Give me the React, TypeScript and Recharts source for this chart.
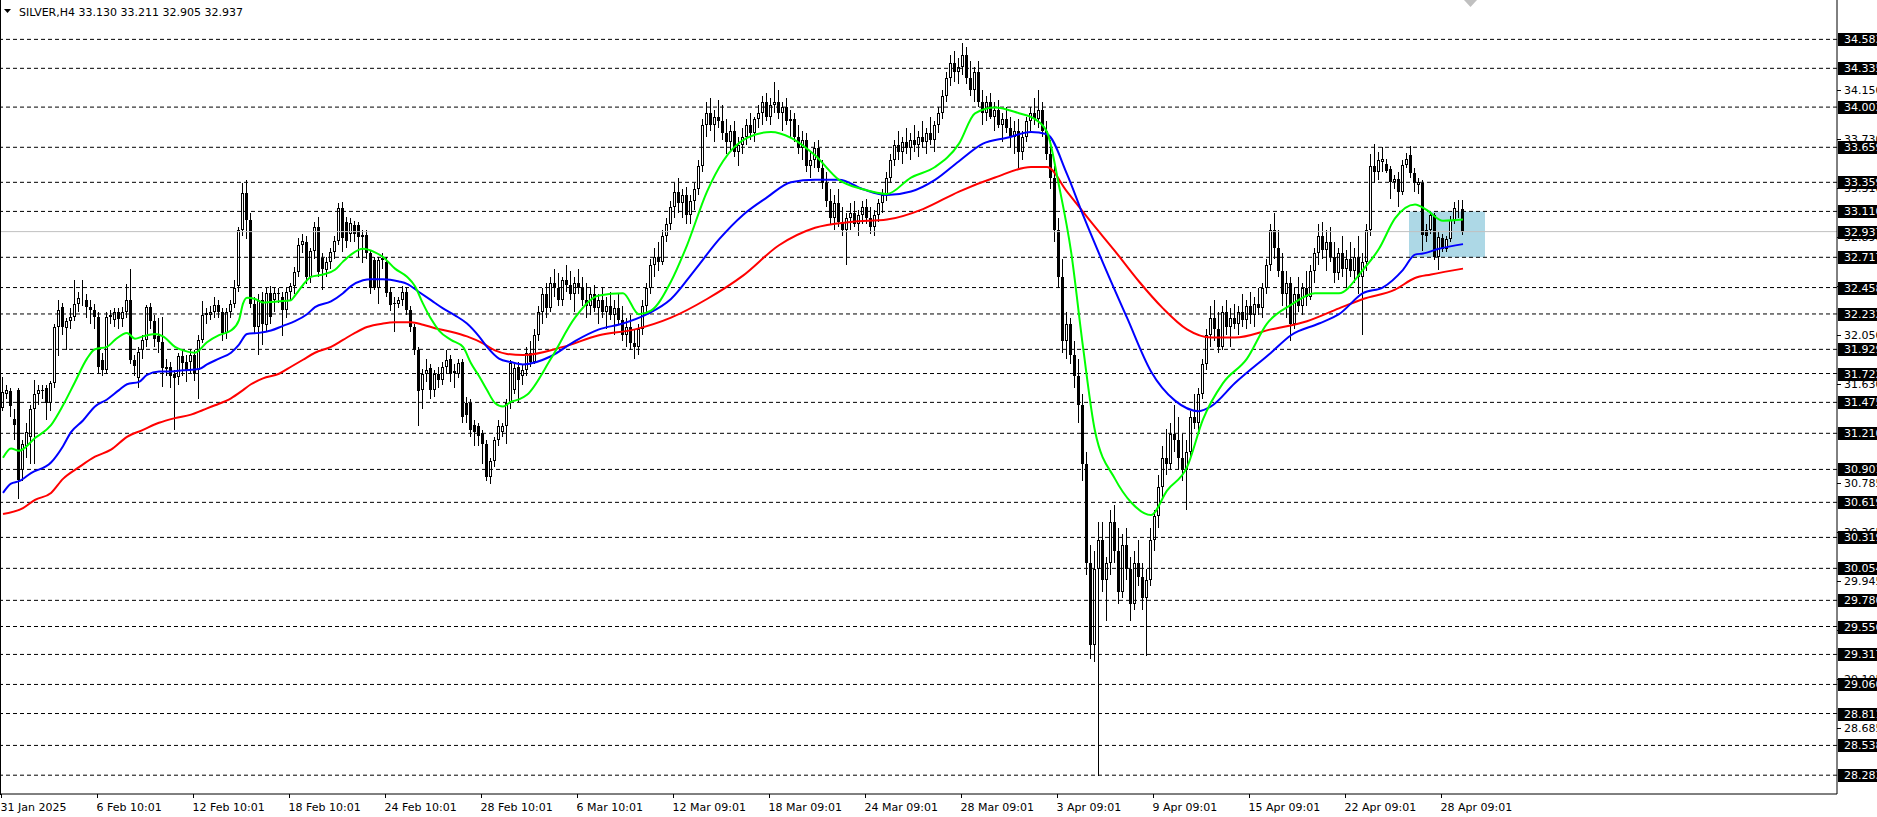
import { Bar, ComposedChart, Line, ReferenceArea, ReferenceLine, XAxis, YAxis } from "recharts"

// SILVER H4 candles, one value per 4h bar (index 0 = 31 Jan 2025)
const opens = [
  31.43, 31.55, 31.57, 31.33, 31.58, 30.90, 31.10, 31.18, 31.42, 31.55,
  31.58, 31.60, 31.47, 31.64, 32.12, 32.29, 32.11, 32.17, 32.21, 32.32,
  32.37, 32.35, 32.29, 32.27, 32.21, 31.84, 31.75, 32.21, 32.18, 32.25,
  32.19, 32.25, 32.35, 31.84, 31.68, 31.92, 32.01, 32.29, 32.17, 32.04,
  31.99, 31.78, 31.78, 31.72, 31.69, 31.87, 31.82, 31.82, 31.88, 31.75,
  32.01, 32.22, 32.22, 32.25, 32.31, 32.25, 32.07, 32.25, 32.32, 32.47,
  32.95, 33.27, 33.04, 32.32, 32.12, 32.35, 32.14, 32.41, 32.35, 32.41,
  32.38, 32.27, 32.42, 32.47, 32.59, 32.82, 32.85, 32.55, 32.77, 32.98,
  32.71, 32.61, 32.68, 32.76, 32.86, 33.14, 33.02, 32.92, 32.99, 32.99,
  32.91, 32.91, 32.75, 32.69, 32.45, 32.69, 32.68, 32.42, 32.33, 32.32,
  32.35, 32.42, 32.27, 32.12, 31.92, 31.58, 31.72, 31.77, 31.58, 31.72,
  31.67, 31.78, 31.85, 31.73, 31.72, 31.82, 31.47, 31.47, 31.28, 31.27,
  31.21, 31.12, 30.84, 30.97, 31.15, 31.22, 31.27, 31.47, 31.58, 31.78,
  31.70, 31.75, 31.90, 31.82, 32.05, 32.25, 32.40, 32.28, 32.50, 32.45,
  32.35, 32.52, 32.48, 32.40, 32.50, 32.45, 32.35, 32.30, 32.40, 32.28,
  32.35, 32.25, 32.30, 32.22, 32.28, 32.18, 32.05, 32.12, 31.98, 31.95,
  32.10, 32.30, 32.45, 32.65, 32.72, 32.68, 32.90, 33.00, 33.15, 33.28,
  33.18, 33.25, 33.08, 33.20, 33.30, 33.50, 33.85, 33.95, 33.85, 33.92,
  33.88, 33.78, 33.70, 33.80, 33.62, 33.68, 33.75, 33.85, 33.78, 33.90,
  33.95, 34.05, 33.92, 34.02, 34.05, 33.95, 34.00, 33.88, 33.90, 33.75,
  33.65, 33.72, 33.50, 33.55, 33.65, 33.48, 33.35, 33.20, 33.05, 33.18,
  33.02, 32.95, 33.05, 33.10, 33.00, 33.08, 33.15, 33.05, 32.98, 33.08,
  33.18, 33.25, 33.40, 33.55, 33.68, 33.62, 33.70, 33.65, 33.72, 33.68,
  33.75, 33.70, 33.78, 33.72, 33.85, 33.95, 34.10, 34.25, 34.38, 34.30,
  34.35, 34.45, 34.25, 34.15, 34.30, 34.05, 33.95, 34.05, 33.92, 33.98,
  33.85, 33.90, 33.82, 33.75, 33.80, 33.62, 33.75, 33.88, 33.95, 33.90,
  33.98, 33.80, 33.60, 33.40, 32.95, 32.55, 32.00, 32.15, 31.88, 31.70,
  31.45, 30.95, 30.10, 29.40, 30.05, 30.30, 29.95, 30.10, 30.45, 30.20,
  29.85, 30.25, 30.05, 29.75, 30.10, 29.98, 29.80, 29.95, 30.30, 30.50,
  30.75, 31.00, 30.95, 31.20, 31.15, 31.00, 30.90, 31.05, 31.35, 31.30,
  31.55, 31.80, 32.05, 32.20, 32.10, 31.95, 32.25, 32.12, 32.20, 32.15,
  32.25, 32.18, 32.30, 32.22, 32.32, 32.28, 32.45, 32.65, 32.95, 32.80,
  32.60, 32.40, 32.50, 32.15, 32.40, 32.30, 32.45, 32.38, 32.60, 32.75,
  32.90, 32.78, 32.85, 32.72, 32.58, 32.75, 32.62, 32.70, 32.60, 32.72,
  32.55, 32.68, 32.95, 33.50, 33.45, 33.53, 33.52, 33.47, 33.36, 33.39,
  33.28, 33.51, 33.59, 33.44, 33.34, 33.35, 32.95, 32.95, 33.08, 32.72,
  32.88, 32.79, 32.87, 33.04, 33.12, 33.13,
]
const highs = [
  31.69, 31.62, 31.60, 31.42, 31.60, 31.15, 31.30, 31.45, 31.67, 31.62,
  31.62, 31.62, 31.66, 32.15, 32.35, 32.33, 32.20, 32.28, 32.52, 32.42,
  32.52, 32.40, 32.35, 32.32, 32.25, 31.90, 32.25, 32.27, 32.28, 32.28,
  32.29, 32.49, 32.62, 31.88, 31.95, 32.05, 32.31, 32.33, 32.22, 32.20,
  32.21, 31.85, 31.82, 31.75, 31.90, 31.92, 31.88, 31.93, 31.92, 32.05,
  32.34, 32.28, 32.30, 32.38, 32.35, 32.28, 32.28, 32.35, 32.52, 32.98,
  33.35, 33.38, 33.10, 32.38, 32.40, 32.42, 32.45, 32.47, 32.45, 32.45,
  32.42, 32.45, 32.50, 32.63, 32.88, 32.92, 32.90, 32.80, 33.02, 33.06,
  32.75, 32.72, 32.80, 32.90, 33.18, 33.19, 33.06, 33.05, 33.03, 33.02,
  32.95, 32.95, 32.78, 32.72, 32.72, 32.75, 32.72, 32.46, 32.38, 32.38,
  32.47, 32.45, 32.30, 32.15, 31.95, 31.76, 31.85, 31.80, 31.75, 31.78,
  31.82, 31.92, 31.88, 31.80, 31.85, 31.85, 31.52, 31.50, 31.32, 31.30,
  31.24, 31.15, 31.00, 31.18, 31.32, 31.30, 31.50, 31.84, 31.80, 31.82,
  31.80, 31.95, 32.00, 32.10, 32.30, 32.45, 32.50, 32.55, 32.62, 32.58,
  32.55, 32.65, 32.60, 32.55, 32.62, 32.55, 32.50, 32.45, 32.48, 32.40,
  32.45, 32.38, 32.42, 32.35, 32.40, 32.30, 32.20, 32.22, 32.10, 32.15,
  32.35, 32.50, 32.70, 32.80, 32.85, 32.95, 33.05, 33.20, 33.35, 33.40,
  33.30, 33.32, 33.25, 33.35, 33.55, 33.90, 34.05, 34.08, 33.98, 34.06,
  34.02, 33.90, 33.85, 33.88, 33.75, 33.82, 33.90, 33.95, 33.92, 34.02,
  34.10, 34.12, 34.08, 34.22, 34.15, 34.05, 34.08, 33.98, 33.95, 33.85,
  33.80, 33.78, 33.62, 33.70, 33.72, 33.55, 33.45, 33.30, 33.25, 33.30,
  33.15, 33.10, 33.18, 33.20, 33.12, 33.20, 33.22, 33.15, 33.12, 33.22,
  33.30, 33.45, 33.60, 33.72, 33.80, 33.75, 33.82, 33.78, 33.85, 33.80,
  33.88, 33.82, 33.92, 33.88, 34.00, 34.15, 34.30, 34.45, 34.48, 34.42,
  34.55, 34.52, 34.40, 34.35, 34.40, 34.15, 34.10, 34.12, 34.05, 34.06,
  33.95, 34.00, 33.92, 33.88, 33.90, 33.80, 33.92, 34.00, 34.08, 34.15,
  34.05, 33.88, 33.72, 33.50, 33.05, 32.70, 32.25, 32.20, 32.00, 31.85,
  31.55, 31.05, 30.25, 30.20, 30.45, 30.45, 30.15, 30.55, 30.60, 30.40,
  30.35, 30.40, 30.15, 30.20, 30.30, 30.10, 30.05, 30.40, 30.55, 30.85,
  31.10, 31.25, 31.30, 31.45, 31.35, 31.20, 31.15, 31.40, 31.55, 31.60,
  31.85, 32.10, 32.30, 32.35, 32.25, 32.30, 32.35, 32.28, 32.32, 32.30,
  32.40, 32.35, 32.42, 32.38, 32.45, 32.50, 32.70, 33.00, 33.10, 32.95,
  32.75, 32.60, 32.55, 32.45, 32.55, 32.50, 32.60, 32.65, 32.80, 33.00,
  33.02, 32.95, 32.98, 32.85, 32.80, 32.90, 32.78, 32.85, 32.80, 32.90,
  32.75, 33.00, 33.60, 33.69, 33.62, 33.66, 33.56, 33.50, 33.42, 33.45,
  33.55, 33.61, 33.67, 33.48, 33.40, 33.38, 33.00, 33.10, 33.10, 32.93,
  32.92, 32.90, 33.07, 33.19, 33.21, 33.211,
]
const lows = [
  31.40, 31.50, 31.35, 31.15, 30.65, 30.80, 31.00, 30.95, 30.95, 31.45,
  31.50, 31.32, 31.40, 31.60, 31.87, 32.05, 31.92, 32.10, 32.17, 32.25,
  32.30, 32.20, 32.15, 32.10, 31.72, 31.70, 31.72, 32.15, 32.12, 32.10,
  32.12, 32.20, 31.80, 31.70, 31.60, 31.85, 31.95, 32.10, 31.95, 31.90,
  31.61, 31.70, 31.60, 31.24, 31.62, 31.70, 31.65, 31.72, 31.66, 31.50,
  31.98, 32.15, 32.18, 32.20, 32.20, 32.00, 32.02, 32.20, 32.28, 32.42,
  32.90, 32.87, 32.28, 32.07, 31.88, 31.97, 32.08, 32.15, 32.25, 32.33,
  32.04, 32.20, 32.35, 32.40, 32.55, 32.75, 32.49, 32.50, 32.70, 32.55,
  32.44, 32.55, 32.62, 32.70, 32.82, 32.76, 32.80, 32.85, 32.85, 32.72,
  32.67, 32.70, 32.40, 32.44, 32.32, 32.62, 32.38, 32.26, 32.08, 32.28,
  32.30, 32.22, 32.08, 31.88, 31.27, 31.42, 31.65, 31.50, 31.52, 31.60,
  31.62, 31.72, 31.65, 31.60, 31.68, 31.30, 31.30, 31.18, 31.10, 31.10,
  30.95, 30.80, 30.78, 30.92, 31.10, 31.18, 31.12, 31.42, 31.55, 31.48,
  31.62, 31.70, 31.78, 31.80, 32.00, 32.15, 32.20, 32.25, 32.38, 32.30,
  32.30, 32.42, 32.35, 32.25, 32.40, 32.30, 32.20, 32.22, 32.25, 32.15,
  32.20, 32.10, 32.18, 32.05, 32.15, 32.00, 31.95, 31.92, 31.85, 31.88,
  32.05, 32.25, 32.40, 32.55, 32.60, 32.65, 32.85, 32.95, 33.05, 33.10,
  33.05, 33.00, 33.00, 33.12, 33.25, 33.45, 33.75, 33.80, 33.70, 33.82,
  33.72, 33.60, 33.62, 33.58, 33.50, 33.60, 33.68, 33.72, 33.70, 33.82,
  33.85, 33.88, 33.85, 33.95, 33.90, 33.80, 33.85, 33.75, 33.70, 33.60,
  33.55, 33.45, 33.40, 33.48, 33.45, 33.30, 33.15, 33.00, 32.95, 32.98,
  32.90, 32.65, 32.95, 32.98, 32.90, 33.00, 33.00, 32.92, 32.90, 33.02,
  33.10, 33.20, 33.35, 33.50, 33.55, 33.52, 33.60, 33.55, 33.62, 33.58,
  33.65, 33.60, 33.68, 33.62, 33.78, 33.90, 34.05, 34.18, 34.22, 34.20,
  34.28, 34.20, 34.10, 34.05, 34.00, 33.85, 33.88, 33.90, 33.80, 33.82,
  33.70, 33.78, 33.65, 33.60, 33.48, 33.55, 33.70, 33.80, 33.85, 33.82,
  33.75, 33.55, 33.30, 32.85, 32.45, 31.90, 31.85, 31.80, 31.60, 31.30,
  30.80, 30.00, 29.28, 29.25, 28.28, 29.85, 29.60, 30.00, 30.10, 29.75,
  29.80, 29.95, 29.60, 29.70, 29.90, 29.70, 29.30, 29.90, 30.20, 30.40,
  30.65, 30.85, 30.90, 31.05, 30.90, 30.80, 30.55, 31.00, 31.25, 31.20,
  31.50, 31.75, 31.95, 32.00, 31.90, 31.92, 32.05, 31.95, 32.10, 32.05,
  32.12, 32.10, 32.15, 32.12, 32.22, 32.20, 32.40, 32.60, 32.70, 32.55,
  32.30, 32.20, 32.00, 32.10, 32.25, 32.22, 32.30, 32.35, 32.50, 32.65,
  32.70, 32.60, 32.68, 32.50, 32.52, 32.55, 32.45, 32.55, 32.50, 32.40,
  32.05, 32.60, 32.90, 33.35, 33.38, 33.45, 33.44, 33.22, 33.30, 33.15,
  33.25, 33.48, 33.40, 33.28, 33.26, 32.77, 32.85, 32.92, 32.69, 32.61,
  32.76, 32.76, 32.85, 33.00, 33.05, 32.905,
]
const closes = [
  31.56, 31.58, 31.44, 31.28, 30.81, 31.12, 31.22, 31.42, 31.55, 31.58,
  31.57, 31.47, 31.64, 32.12, 32.27, 32.12, 32.17, 32.21, 32.32, 32.37,
  32.38, 32.29, 32.27, 32.21, 31.78, 31.75, 32.21, 32.22, 32.25, 32.19,
  32.25, 32.35, 31.84, 31.79, 31.91, 32.01, 32.29, 32.17, 32.02, 31.99,
  31.77, 31.76, 31.70, 31.68, 31.87, 31.81, 31.74, 31.88, 31.72, 32.01,
  32.22, 32.24, 32.25, 32.31, 32.25, 32.07, 32.25, 32.32, 32.45, 32.95,
  33.27, 33.04, 32.32, 32.12, 32.35, 32.15, 32.41, 32.21, 32.41, 32.40,
  32.27, 32.42, 32.47, 32.59, 32.82, 32.86, 32.55, 32.77, 32.98, 32.59,
  32.62, 32.68, 32.76, 32.86, 33.14, 32.88, 32.86, 33.01, 32.92, 32.89,
  32.89, 32.75, 32.45, 32.45, 32.69, 32.71, 32.41, 32.31, 32.32, 32.35,
  32.42, 32.27, 32.12, 31.92, 31.57, 31.72, 31.75, 31.58, 31.72, 31.67,
  31.78, 31.84, 31.72, 31.74, 31.81, 31.35, 31.37, 31.24, 31.22, 31.19,
  31.12, 30.84, 30.97, 31.15, 31.27, 31.27, 31.47, 31.81, 31.77, 31.67,
  31.75, 31.90, 31.82, 32.05, 32.25, 32.40, 32.28, 32.50, 32.45, 32.35,
  32.52, 32.48, 32.40, 32.50, 32.45, 32.35, 32.30, 32.40, 32.28, 32.35,
  32.25, 32.30, 32.22, 32.28, 32.18, 32.05, 32.12, 31.98, 31.95, 32.10,
  32.30, 32.45, 32.65, 32.72, 32.68, 32.90, 33.00, 33.15, 33.28, 33.18,
  33.25, 33.08, 33.20, 33.30, 33.50, 33.85, 33.95, 33.85, 33.92, 33.88,
  33.78, 33.70, 33.80, 33.62, 33.68, 33.75, 33.85, 33.78, 33.90, 33.95,
  34.05, 33.92, 34.02, 34.05, 33.95, 34.00, 33.88, 33.90, 33.75, 33.65,
  33.72, 33.50, 33.55, 33.65, 33.48, 33.35, 33.20, 33.05, 33.18, 33.02,
  32.95, 33.05, 33.10, 33.00, 33.08, 33.15, 33.05, 32.98, 33.08, 33.18,
  33.25, 33.40, 33.55, 33.68, 33.62, 33.70, 33.65, 33.72, 33.68, 33.75,
  33.70, 33.78, 33.72, 33.85, 33.95, 34.10, 34.25, 34.38, 34.30, 34.35,
  34.45, 34.25, 34.15, 34.30, 34.05, 33.95, 34.05, 33.92, 33.98, 33.85,
  33.90, 33.82, 33.75, 33.80, 33.62, 33.75, 33.88, 33.95, 33.90, 33.98,
  33.80, 33.60, 33.40, 32.95, 32.55, 32.00, 32.15, 31.88, 31.70, 31.45,
  30.95, 30.10, 29.40, 30.05, 30.30, 29.95, 30.10, 30.45, 30.20, 29.85,
  30.25, 30.05, 29.75, 30.10, 29.98, 29.80, 29.95, 30.30, 30.50, 30.75,
  31.00, 30.95, 31.20, 31.15, 31.00, 30.90, 31.05, 31.35, 31.30, 31.55,
  31.80, 32.05, 32.20, 32.10, 31.95, 32.25, 32.12, 32.20, 32.15, 32.25,
  32.18, 32.30, 32.22, 32.32, 32.28, 32.45, 32.65, 32.95, 32.80, 32.60,
  32.40, 32.50, 32.15, 32.40, 32.30, 32.45, 32.38, 32.60, 32.75, 32.90,
  32.78, 32.85, 32.72, 32.58, 32.75, 32.62, 32.70, 32.60, 32.72, 32.55,
  32.68, 32.95, 33.50, 33.45, 33.55, 33.56, 33.46, 33.36, 33.39, 33.28,
  33.51, 33.56, 33.44, 33.35, 33.36, 32.91, 32.90, 33.08, 32.72, 32.89,
  32.79, 32.87, 33.04, 33.14, 33.13, 32.937,
]

// moving averages: [bar, value]
const greenMa: [number, number][] = [
  [0, 31.0], [2, 31.08], [4, 31.06], [8, 31.17], [12, 31.28], [15, 31.45], [18, 31.65], [21, 31.85],
  [23, 31.93], [26, 31.95], [28, 32.01], [31, 32.07], [33, 32.02], [35, 32.04], [38, 32.06], [40, 32.04],
  [43, 31.95], [45, 31.92], [48, 31.9], [51, 31.99], [54, 32.05], [57, 32.09], [59, 32.18], [60, 32.32],
  [61, 32.37], [63, 32.36], [65, 32.33], [69, 32.34], [72, 32.35], [73, 32.39], [75, 32.48], [77, 32.55],
  [80, 32.57], [83, 32.61], [85, 32.68], [87, 32.74], [90, 32.79], [93, 32.76], [95, 32.72], [98, 32.62],
  [101, 32.55], [103, 32.47], [105, 32.32], [107, 32.19], [109, 32.09], [112, 32.01], [115, 31.95], [117, 31.81],
  [119, 31.7], [121, 31.58], [123, 31.47], [125, 31.44], [127, 31.48], [129, 31.5], [131, 31.54], [137, 31.85],
  [143, 32.2], [149, 32.39], [155, 32.41], [159, 32.23], [162, 32.26], [167, 32.51], [171, 32.82], [176, 33.28],
  [180, 33.54], [186, 33.74], [192, 33.79], [197, 33.74], [203, 33.59], [209, 33.38], [215, 33.3], [221, 33.26],
  [227, 33.4], [233, 33.49], [239, 33.69], [243, 33.95], [248, 34.0], [254, 33.95], [258, 33.9], [261, 33.79],
  [264, 33.33], [267, 32.77], [270, 31.95], [273, 31.23], [278, 30.82], [282, 30.62], [287, 30.51], [291, 30.72],
  [296, 30.92], [300, 31.33], [305, 31.64], [311, 31.85], [316, 32.15], [322, 32.31], [328, 32.41], [334, 32.41],
  [340, 32.61], [344, 32.79], [348, 33.05], [353, 33.17], [356, 33.12], [360, 33.03], [365, 33.04],
]
const blueMa: [number, number][] = [
  [0, 30.7], [2, 30.78], [4, 30.8], [7, 30.87], [12, 30.96], [15, 31.1], [17, 31.22], [20, 31.32],
  [23, 31.44], [26, 31.5], [29, 31.58], [31, 31.63], [34, 31.65], [36, 31.71], [39, 31.74], [42, 31.74],
  [45, 31.75], [49, 31.76], [51, 31.8], [54, 31.85], [57, 31.9], [59, 31.97], [61, 32.06], [64, 32.07],
  [67, 32.09], [70, 32.13], [73, 32.17], [76, 32.23], [78, 32.29], [82, 32.34], [85, 32.41], [87, 32.47],
  [90, 32.52], [92, 32.53], [95, 32.53], [99, 32.51], [101, 32.49], [104, 32.42], [107, 32.35], [110, 32.28],
  [113, 32.22], [116, 32.15], [119, 32.04], [121, 31.95], [124, 31.85], [127, 31.82], [130, 31.8], [137, 31.87],
  [143, 32.0], [149, 32.1], [155, 32.15], [161, 32.23], [167, 32.36], [173, 32.61], [179, 32.87], [185, 33.08],
  [191, 33.23], [197, 33.36], [203, 33.38], [209, 33.38], [215, 33.3], [221, 33.25], [227, 33.28], [233, 33.38],
  [239, 33.54], [245, 33.69], [251, 33.74], [257, 33.79], [261, 33.77], [266, 33.43], [270, 33.08], [275, 32.67],
  [281, 32.2], [287, 31.74], [293, 31.49], [299, 31.4], [302, 31.44], [308, 31.64], [317, 31.9], [322, 32.05],
  [329, 32.15], [334, 32.23], [340, 32.41], [345, 32.46], [350, 32.61], [353, 32.74], [355, 32.75], [359, 32.79],
  [365, 32.83],
]
const redMa: [number, number][] = [
  [0, 30.52], [5, 30.57], [8, 30.64], [12, 30.7], [15, 30.82], [19, 30.92], [23, 31.01], [27, 31.07],
  [31, 31.18], [35, 31.24], [39, 31.3], [43, 31.34], [47, 31.37], [50, 31.41], [53, 31.45], [57, 31.51],
  [60, 31.58], [62, 31.63], [65, 31.68], [69, 31.72], [72, 31.78], [75, 31.84], [78, 31.9], [82, 31.95],
  [85, 32.01], [88, 32.07], [91, 32.12], [95, 32.15], [98, 32.16], [102, 32.16], [105, 32.14], [108, 32.11],
  [112, 32.08], [116, 32.04], [120, 31.98], [123, 31.92], [126, 31.89], [130, 31.88], [140, 31.95], [149, 32.05],
  [158, 32.1], [167, 32.2], [176, 32.36], [185, 32.56], [194, 32.82], [203, 32.97], [212, 33.02], [221, 33.04],
  [230, 33.13], [239, 33.28], [248, 33.4], [257, 33.49], [261, 33.49], [266, 33.28], [272, 33.02], [278, 32.77],
  [284, 32.51], [290, 32.28], [296, 32.1], [302, 32.03], [308, 32.03], [317, 32.1], [326, 32.17], [334, 32.28],
  [340, 32.36], [348, 32.44], [353, 32.54], [357, 32.57], [365, 32.62],
]

const levels = [
  34.583, 34.335, 34.003, 33.659, 33.359, 33.11, 32.717, 32.458, 32.232, 31.929, 31.722, 31.475,
  31.21, 30.901, 30.619, 30.319, 30.054, 29.78, 29.556, 29.317, 29.06, 28.811, 28.538, 28.283,
]
const priceScale = [
  34.15, 33.73, 33.31, 32.89, 32.47, 32.05, 31.63, 31.21, 30.785, 30.365, 29.945, 29.525, 29.105, 28.685,
]
const lastPrice = 32.937
const zoneTop = 33.11
const zoneBottom = 32.717
const zoneFrom = 352
const zoneTo = 370

const dateBars = [0, 24, 48, 72, 96, 120, 144, 168, 192, 216, 240, 264, 288, 312, 336, 360]
const dateLabels = [
  "31 Jan 2025", "6 Feb 10:01", "12 Feb 10:01", "18 Feb 10:01", "24 Feb 10:01", "28 Feb 10:01",
  "6 Mar 10:01", "12 Mar 09:01", "18 Mar 09:01", "24 Mar 09:01", "28 Mar 09:01", "3 Apr 09:01",
  "9 Apr 09:01", "15 Apr 09:01", "22 Apr 09:01", "28 Apr 09:01",
]

const SLOTS = 459
const FONT = "DejaVu Sans"

const rows: any[] = Array.from({ length: SLOTS }, (_, i) => {
  const has = i < opens.length
  return {
    i,
    o: has ? opens[i] : null,
    h: has ? highs[i] : null,
    l: has ? lows[i] : null,
    c: has ? closes[i] : null,
    range: has ? [lows[i], highs[i]] : null,
    g: null,
    b: null,
    r: null,
  }
})
greenMa.forEach(([bar, v]) => (rows[bar].g = v))
blueMa.forEach(([bar, v]) => (rows[bar].b = v))
redMa.forEach(([bar, v]) => (rows[bar].r = v))

function Candle(props: any) {
  const { x, y, height, payload } = props
  if (!payload || payload.range == null) return null
  const top = Math.min(y, y + height)
  const bottom = Math.max(y, y + height)
  const span = payload.h - payload.l || 1
  const py = (v: number) => top + ((payload.h - v) / span) * (bottom - top)
  const bx = Math.round(x)
  const yo = py(payload.o)
  const yc = py(payload.c)
  const bTop = Math.round(Math.min(yo, yc))
  const bBot = Math.round(Math.max(yo, yc))
  const bull = payload.c >= payload.o
  return (
    <g>
      <line x1={bx + 1.5} x2={bx + 1.5} y1={Math.round(top)} y2={Math.round(bottom)} stroke="#000" strokeWidth={1} />
      {bull ? (
        <rect x={bx + 0.5} y={bTop + 0.5} width={2} height={Math.max(bBot - bTop - 1, 0)} fill="#fff" stroke="#000" strokeWidth={1} />
      ) : (
        <rect x={bx} y={bTop} width={3} height={Math.max(bBot - bTop, 1)} fill="#000" />
      )}
    </g>
  )
}

function DateTick(props: any) {
  const { x, y, payload } = props
  const k = dateBars.indexOf(payload.value)
  if (k < 0) return null
  const tx = Math.round(x) - 2 + 0.5
  return (
    <g>
      <line x1={tx} x2={tx} y1={y} y2={y + 4} stroke="#000" />
      <text x={tx - 1} y={y + 17} fontFamily={FONT} fontSize={11} fill="#000">
        {dateLabels[k]}
      </text>
    </g>
  )
}

function PriceTick(props: any) {
  const { x, y, payload } = props
  const v = payload.value as number
  const boxed = levels.includes(v) || v === lastPrice
  if (boxed) {
    return (
      <g>
        <rect x={x + 1} y={Math.round(y) - 6} width={42} height={13} fill="#000" />
        <text x={x + 7} y={Math.round(y) + 4} fontFamily={FONT} fontSize={11} fill="#fff">
          {v.toFixed(3)}
        </text>
      </g>
    )
  }
  return (
    <g>
      <line x1={x} x2={x + 4} y1={Math.round(y) + 0.5} y2={Math.round(y) + 0.5} stroke="#000" />
      <text x={x + 7} y={Math.round(y) + 4} fontFamily={FONT} fontSize={11} fill="#000">
        {v.toFixed(3)}
      </text>
    </g>
  )
}

export default function App() {
  return (
    <div style={{ position: "absolute", left: 0, top: 0, width: 1877, height: 817, background: "#fff", overflow: "hidden" }}>
      <ComposedChart
        width={1877}
        height={817}
        data={rows}
        margin={{ top: 0, right: 0, bottom: 0, left: 1 }}
        barCategoryGap={0}
        barGap={0}
      >
        <XAxis
          dataKey="i"
          type="category"
          ticks={dateBars}
          interval={0}
          height={23}
          tickLine={false}
          tickSize={0}
          tickMargin={0}
          axisLine={{ stroke: "#000" }}
          tick={<DateTick />}
        />
        <YAxis
          orientation="right"
          width={40}
          type="number"
          domain={[28.122, 34.92]}
          allowDataOverflow
          ticks={[...priceScale, ...levels, lastPrice]}
          interval={0}
          tickLine={false}
          tickSize={0}
          tickMargin={0}
          axisLine={{ stroke: "#000" }}
          tick={<PriceTick />}
        />
        <ReferenceArea x1={zoneFrom} x2={zoneTo} y1={zoneBottom} y2={zoneTop} fill="#ADD8E6" fillOpacity={1} stroke="none" />
        {levels.map((lv) => (
          <ReferenceLine key={lv} y={lv} stroke="#000" strokeDasharray="4 3" />
        ))}
        <ReferenceLine y={lastPrice} stroke="#C0C0C0" />
        <Bar dataKey="range" shape={<Candle />} isAnimationActive={false} />
        <Line dataKey="r" type="monotone" stroke="#FF0000" strokeWidth={2} dot={false} activeDot={false} connectNulls isAnimationActive={false} />
        <Line dataKey="b" type="monotone" stroke="#0000FF" strokeWidth={2} dot={false} activeDot={false} connectNulls isAnimationActive={false} />
        <Line dataKey="g" type="monotone" stroke="#00FF00" strokeWidth={2} dot={false} activeDot={false} connectNulls isAnimationActive={false} />
      </ComposedChart>
      <div style={{ position: "absolute", left: 0, top: 0, width: 1, height: 795, background: "#000" }} />
      <svg style={{ position: "absolute", left: 0, top: 0 }} width={300} height={20}>
        <polygon points="4,9 11,9 7.5,13" fill="#000" />
        <text x={19} y={16} fontFamily={FONT} fontSize={11} fill="#000">
          SILVER,H4  33.130 33.211 32.905 32.937
        </text>
      </svg>
      <svg style={{ position: "absolute", left: 1464, top: 0 }} width={14} height={8}>
        <polygon points="0,0 13,0 6.5,7" fill="#C0C0C0" />
      </svg>
    </div>
  )
}
